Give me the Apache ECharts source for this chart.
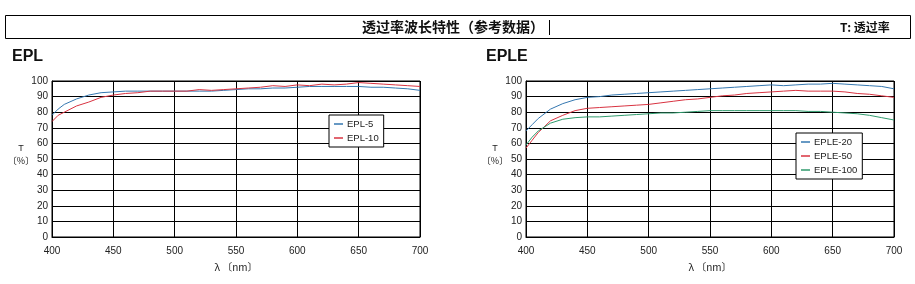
<!DOCTYPE html>
<html><head><meta charset="utf-8">
<script src="https://cdn.jsdelivr.net/npm/echarts@6/dist/echarts.min.js"></script>
<style>html,body{margin:0;padding:0;background:#fff}#c{width:915px;height:284px}</style>
</head><body><div id="c"></div>
<script>
// Wavelengths (nm)
const wl = [400,405,410,420,430,440,450,460,470,480,490,500,510,520,530,540,550,560,570,580,590,600,610,620,630,640,650,660,670,680,690,700];
// EPL chart
const epl5  = [78,82,85,88.5,91,92.5,93,93.5,93.5,93.5,93.5,93.5,93.5,93.5,93.5,94,94.5,95,95,95.5,95.5,96,96.5,96.5,96.5,96.5,96.5,96,96,95.5,95,94];
const epl10 = [74,78,80,84,86.5,89.5,91,92,92.5,93.5,93.5,93.5,93.5,94.5,94,94.5,95,95.5,96,97,96.5,97.5,97,98,97.5,98,99,98.5,98,97.5,97,96.5];
// EPLE chart
const eple20  = [68,72,76,82,85.5,88,89.5,90,91,91.5,92,92.5,93,93.5,94,94.5,95,95.5,96,96.5,97,97.5,97,97.5,98,98,98.5,98,97.5,97,96.5,95];
const eple50  = [57,62,67,74.5,78,81,82.5,83,83.5,84,84.5,85,86,87,88,88.5,89.5,90.5,91,92,92.5,93,93.5,94,93.5,93.5,93.5,93,92,91.5,90.5,89.5];
const eple100 = [59,64,68,73,75.5,76.5,77,77,77.5,78,78.5,79,79.5,79.5,80,80.5,81,81,81,81,81,81,81,81,80.5,80.5,80,79.5,79,78,76.5,75];
const xTicks = [400,450,500,550,600,650,700];
const yTicks = [0,10,20,30,40,50,60,70,80,90,100];

const BLUE='#3477b0', RED='#d83341', GREEN='#2f9a6c';
const pairs = a => wl.map((x,i)=>[x,a[i]]);
const lblFont = {fontFamily:'Liberation Sans, Arial, sans-serif', fontSize:10, color:'#222'};

function xAxis(gi){return {gridIndex:gi,type:'value',min:400,max:700,interval:50,
  axisLine:{show:true,lineStyle:{color:'#000',width:1}},axisTick:{show:false},
  splitLine:{show:true,lineStyle:{color:'#000',width:1}},
  axisLabel:Object.assign({margin:9},lblFont)};}
function yAxis(gi){return {gridIndex:gi,type:'value',min:0,max:100,interval:10,
  axisLine:{show:true,lineStyle:{color:'#000',width:1}},axisTick:{show:false},
  splitLine:{show:true,lineStyle:{color:'#000',width:1}},
  axisLabel:Object.assign({margin:4},lblFont)};}
function line(name,data,color,xi){return {name,type:'line',xAxisIndex:xi,yAxisIndex:xi,data:pairs(data),
  showSymbol:false,symbol:'none',lineStyle:{color,width:1},itemStyle:{color},animation:false,z:5};}

const legendBase = {orient:'vertical',backgroundColor:'#fff',borderColor:'#000',borderWidth:1,
  padding:[4,5,4,5],itemGap:4,itemWidth:9,itemHeight:1.5,icon:'rect',
  textStyle:{fontFamily:'Liberation Sans, Arial, sans-serif',fontSize:9.5,color:'#222',padding:[0,0,0,-1]}};

const chart = echarts.init(document.getElementById('c'),null,{renderer:'canvas'});
chart.setOption({
  animation:false,
  grid:[{left:52,top:81,width:368,height:156,show:true,borderColor:'#000',borderWidth:1},
        {left:526,top:81,width:368,height:156,show:true,borderColor:'#000',borderWidth:1}],
  xAxis:[xAxis(0),xAxis(1)],
  yAxis:[yAxis(0),yAxis(1)],
  legend:[Object.assign({},legendBase,{data:['EPL-5','EPL-10'],left:329,top:115}),
          Object.assign({},legendBase,{data:['EPLE-20','EPLE-50','EPLE-100'],left:796,top:133})],
  series:[line('EPL-5',epl5,BLUE,0),line('EPL-10',epl10,RED,0),
          line('EPLE-20',eple20,BLUE,1),line('EPLE-50',eple50,RED,1),line('EPLE-100',eple100,GREEN,1)],
  graphic:[
    {type:'rect',shape:{x:5.5,y:15.5,width:905,height:23},style:{fill:'#fff',stroke:'#000',lineWidth:1}},
    {type:'text',x:362,y:27,style:{text:'透过率波长特性（参考数据）',fontFamily:'Noto Sans CJK SC',fontSize:14,fontWeight:'bold',fill:'#111',verticalAlign:'middle'}},
    {type:'line',shape:{x1:549.5,y1:20,x2:549.5,y2:35},style:{stroke:'#000',lineWidth:1}},
    {type:'text',x:840,y:27,style:{text:'T: 透过率',fontFamily:'Noto Sans CJK SC',fontSize:12,fontWeight:'bold',fill:'#111',verticalAlign:'middle'}},
    {type:'text',x:12,y:57,style:{text:'EPL',fontFamily:'Liberation Sans, Arial',fontSize:16,fontWeight:'bold',fill:'#111',verticalAlign:'middle'}},
    {type:'text',x:486,y:57,style:{text:'EPLE',fontFamily:'Liberation Sans, Arial',fontSize:16,fontWeight:'bold',fill:'#111',verticalAlign:'middle'}},
    {type:'text',x:21,y:149,style:{text:'T',fontFamily:'Liberation Sans, Arial',fontSize:9,fill:'#222',align:'center',verticalAlign:'middle'}},
    {type:'text',x:21,y:161,style:{text:'〔%〕',fontFamily:'Noto Sans CJK SC',fontSize:9,fill:'#222',align:'center',verticalAlign:'middle'}},
    {type:'text',x:495,y:149,style:{text:'T',fontFamily:'Liberation Sans, Arial',fontSize:9,fill:'#222',align:'center',verticalAlign:'middle'}},
    {type:'text',x:495,y:161,style:{text:'〔%〕',fontFamily:'Noto Sans CJK SC',fontSize:9,fill:'#222',align:'center',verticalAlign:'middle'}},
    {type:'text',x:236,y:267,style:{text:'λ 〔nm〕',fontFamily:'Noto Sans CJK SC',fontSize:10,fill:'#222',align:'center',verticalAlign:'middle'}},
    {type:'text',x:710,y:267,style:{text:'λ 〔nm〕',fontFamily:'Noto Sans CJK SC',fontSize:10,fill:'#222',align:'center',verticalAlign:'middle'}}
  ]
});
</script></body></html>
